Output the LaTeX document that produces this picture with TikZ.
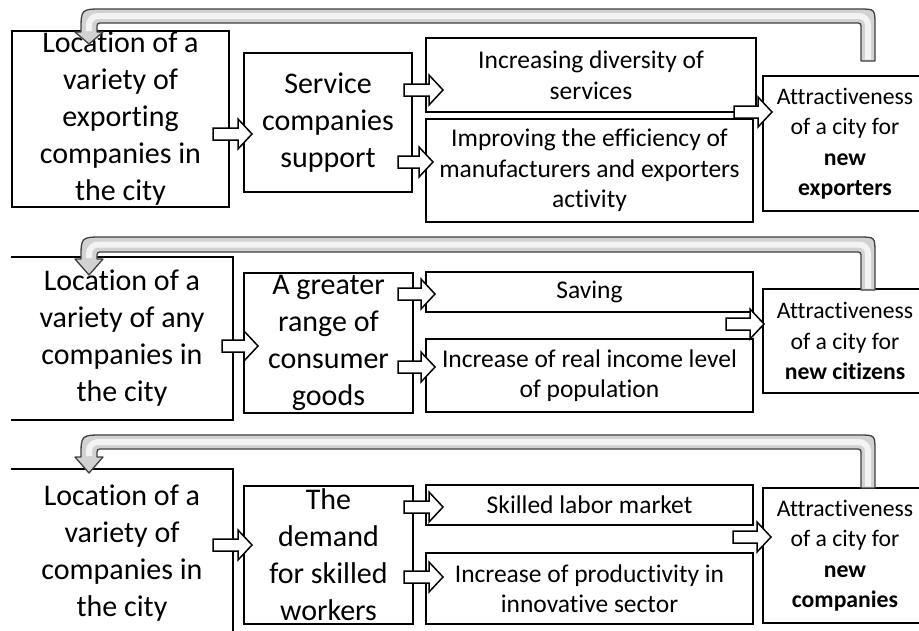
\documentclass[tikz,border=0pt]{standalone}
\usepackage{fontspec}
\setmainfont{Carlito}[Ligatures=NoCommon]
\newcommand\bx[6]{\node[box, minimum width={#4-#2}, minimum height={#5-#3}, #6] (#1) at ({(#2+#4)/2},{(#3+#5)/2}) {};}
\newcommand\barr[3]{\draw[barrow] (#1,#3-6) -- (#2-14,#3-6) -- (#2-14,#3-15) -- (#2,#3) -- (#2-14,#3+15) -- (#2-14,#3+6) -- (#1,#3+6) -- cycle;}
% loop arrow: outer top, inner top, right end, head top, head tip
\newcommand\loopar[5]{\draw[loopstyle] (861,#3) -- (861,#2+6) .. controls (861,#2) .. (855,#2) -- (103,#2) .. controls (97,#2) .. (97,#2+6) -- (97,#4) -- (103,#4) -- (89,#5) -- (75,#4) -- (81,#4) -- (81,#1+22) .. controls (81,#1) .. (103,#1) -- (859,#1) .. controls (875,#1) .. (875,#1+16) -- (875,#3) -- cycle;
\draw[loophi, rounded corners=9pt] (868,#3-1.5) -- (868,{(#1+#2)/2}) -- (89,{(#1+#2)/2}) -- (89,#4-1);}
\begin{document}
\begin{tikzpicture}[x=1pt,y=-1pt,
  box/.style={draw=black, line width=1.8pt, fill=white, inner sep=0pt},
  nobox/.style={draw=none, fill=white, inner sep=0pt},
  big/.style={font=\fontsize{30}{37}\selectfont, align=center, inner sep=0pt},
  mid/.style={font=\fontsize{25.5}{30.5}\selectfont, align=center, inner sep=0pt},
  sml/.style={font=\fontsize{23.7}{30.5}\selectfont, align=center, inner sep=0pt},
  barrow/.style={draw=black, fill=white, line width=1.5pt, line join=miter},
  loopstyle/.style={draw=black!75, fill=gray!35, line width=1.3pt, line join=round},
  loophi/.style={draw=white, line width=6pt, opacity=0.75}]
\useasboundingbox[fill=white] (0,0) rectangle (919,630);

% ---------- row 1 ----------
\bx{A1}{12}{31}{229}{207}{}
\bx{B1}{244}{53}{412}{192}{}
\bx{C1}{426}{38}{756}{112}{}
\bx{D1}{426}{119}{753}{222}{}
\bx{E1}{763}{76}{927}{211}{}
\node[big] (tA1) at (A1.center) {Location of a\\variety of\\exporting\\companies in\\the city};
\node[big] (tB1) at (B1.center) {Service\\companies\\support};
\node[mid] (tC1) at (C1.center) {Increasing diversity of\\services};
\node[mid] (tD1) at (D1.center) {Improving the efficiency of\\manufacturers and exporters\\activity};
\node[sml] (tE1) at (E1.center) {Attractiveness\\of a city for\\\textbf{new}\\\textbf{exporters}};

% ---------- row 2 ----------
\bx{A2}{12}{258}{232}{419}{nobox}
\draw[line width=1.8pt] (A2.north west) -- (A2.north east) -- (A2.south east) -- (A2.south west);
\bx{B2}{244}{273}{413}{413}{}
\bx{C2}{426}{272}{753}{312}{}
\bx{D2}{426}{339}{753}{412}{}
\bx{E2}{763}{289}{927}{393}{}
\node[big] (tA2) at (A2.center) {Location of a\\variety of any\\companies in\\the city};
\node[big] (tB2) at (B2.center) {A greater\\range of\\consumer\\goods};
\node[mid] (tC2) at (C2.center) {Saving};
\node[mid] (tD2) at (D2.center) {Increase of real income level\\of population};
\node[sml] (tE2) at (E2.center) {Attractiveness\\of a city for\\\textbf{new citizens}};

% ---------- row 3 ----------
\bx{A3}{12}{470}{232}{640}{nobox}
\draw[line width=1.8pt] (A3.north west) -- (A3.north east) -- (A3.south east);
\bx{B3}{244}{486}{413}{624}{}
\bx{C3}{426}{485}{753}{525}{}
\bx{D3}{426}{553}{753}{624}{}
\bx{E3}{763}{488}{927}{623}{}
\node[big] (tA3) at (122,553) {Location of a\\variety of\\companies in\\the city};
\node[big] (tB3) at (B3.center) {The\\demand\\for skilled\\workers};
\node[mid] (tC3) at (C3.center) {Skilled labor market};
\node[mid] (tD3) at (D3.center) {Increase of productivity in\\innovative sector};
\node[sml] (tE3) at (E3.center) {Attractiveness\\of a city for\\\textbf{new}\\\textbf{companies}};

% ---------- block arrows ----------
\barr{213}{252}{134}
\barr{404}{443}{90}
\barr{398}{433}{162}
\barr{734}{772}{112}

\barr{222}{258}{346}
\barr{398}{435}{294}
\barr{398}{435}{367}
\barr{726}{764}{324}

\barr{213}{252}{545}
\barr{404}{443}{507}
\barr{404}{443}{577}
\barr{733}{771}{537}

% ---------- feedback loops ----------
\loopar{9}{23}{61}{32}{44}
\loopar{237}{252}{290}{259}{275}
\loopar{435}{449}{488}{457}{473}
\end{tikzpicture}
\end{document}
